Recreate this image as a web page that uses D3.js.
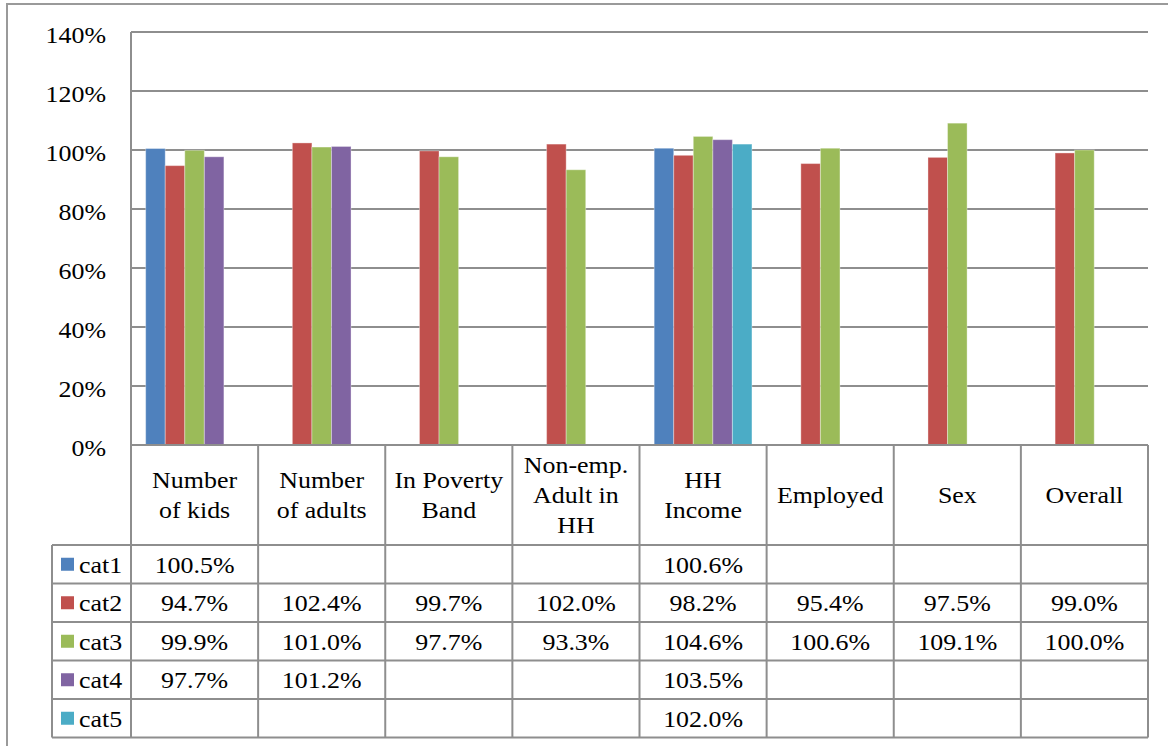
<!DOCTYPE html>
<html><head><meta charset="utf-8">
<script src="https://cdn.jsdelivr.net/npm/d3@7"></script>
<style>body{margin:0;background:#fff}svg{display:block}svg text{font-family:"Liberation Serif","Times New Roman","DejaVu Serif",serif !important;}</style>
</head><body>
<svg id="c" width="1168" height="746"></svg>
<script>
const categories = [["Number","of kids"],["Number","of adults"],["In Poverty","Band"],["Non-emp.","Adult in","HH"],["HH","Income"],["Employed"],["Sex"],["Overall"]];
const seriesNames = ["cat1","cat2","cat3","cat4","cat5"];
const cat1 = [100.5, null, null, null, 100.6, null, null, null];
const cat2 = [94.7, 102.4, 99.7, 102.0, 98.2, 95.4, 97.5, 99.0];
const cat3 = [99.9, 101.0, 97.7, 93.3, 104.6, 100.6, 109.1, 100.0];
const cat4 = [97.7, 101.2, null, null, 103.5, null, null, null];
const cat5 = [null, null, null, null, 102.0, null, null, null];
const colors = ["#4F81BD","#C0504D","#9BBB59","#8064A2","#4BACC6"];
const yTicks = [0,20,40,60,80,100,120,140];

const series = [cat1,cat2,cat3,cat4,cat5];
const svg = d3.select("#c");
const L = 131, R = 1148, T = 32, B = 445;
const rowH = 38.5, headB = 545, legL = 52;
const grid = "#8e8e8e";
const fs = 24, sx = 1.08;

// outer border
svg.append("path").attr("d","M7,746 V4 H1168").attr("fill","none").attr("stroke","#9a9a9a").attr("stroke-width",2);

const x = d3.scaleBand().domain(d3.range(categories.length)).range([L,R]).paddingInner(0).paddingOuter(0);
const y = d3.scaleLinear().domain([0,140]).range([B,T]);
const bw = x.bandwidth()/(5+1.5);
const xs = d3.scaleBand().domain(d3.range(5)).range([bw*0.75, x.bandwidth()-bw*0.75]).padding(0);

// gridlines
svg.append("g").selectAll("line").data(yTicks).join("line")
  .attr("x1",L).attr("x2",R).attr("y1",d=>y(d)).attr("y2",d=>y(d))
  .attr("stroke",grid).attr("stroke-width",2);

// y axis labels
const yAxis = d3.axisLeft(y).tickValues(yTicks).tickFormat(d=>d+"%").tickSize(0).tickPadding(0);
const ya = svg.append("g").attr("transform",`translate(106,0)`).call(yAxis);
ya.select(".domain").remove();
ya.selectAll("text").style("font-size",fs+"px").attr("fill","#000").attr("x",0).attr("dy","0.42em")
  .attr("transform",`scale(${sx},1)`);

// bars
series.forEach((s,si)=>{
  svg.append("g").selectAll("rect").data(s.map((v,i)=>({v,i})).filter(d=>d.v!=null)).join("rect")
    .attr("x",d=>x(d.i)+xs(si)).attr("width",xs.bandwidth())
    .attr("y",d=>y(d.v)).attr("height",d=>B-y(d.v))
    .attr("fill",colors[si]).attr("stroke","rgba(255,255,255,0.35)").attr("stroke-width",1);
});

// plot left axis line
svg.append("line").attr("x1",L).attr("x2",L).attr("y1",T).attr("y2",B).attr("stroke",grid).attr("stroke-width",2);

// table lines
const tb = svg.append("g").attr("stroke",grid).attr("stroke-width",2);
const tableBottom = headB + rowH*5;
tb.append("line").attr("x1",L).attr("x2",R).attr("y1",B).attr("y2",B);
d3.range(6).forEach(r=>{
  tb.append("line").attr("x1",legL).attr("x2",R).attr("y1",headB+r*rowH).attr("y2",headB+r*rowH);
});
d3.range(categories.length+1).forEach(i=>{
  const xx = i<categories.length ? x(i) : R;
  tb.append("line").attr("x1",xx).attr("x2",xx).attr("y1",B).attr("y2",tableBottom);
});
tb.append("line").attr("x1",legL).attr("x2",legL).attr("y1",headB).attr("y2",tableBottom);

function txt(g, x0, y0, t, anchor){
  return g.append("text").attr("transform",`translate(${x0},${y0}) scale(${sx},1)`)
    .attr("text-anchor",anchor||"middle").style("font-size",fs+"px").attr("fill","#000").text(t);
}

// header text
const hdr = svg.append("g");
categories.forEach((lines,i)=>{
  const cx = x(i)+x.bandwidth()/2;
  const lh = 30;
  const mid = (B+headB)/2 + 8;
  lines.forEach((t,k)=>{
    txt(hdr, cx, mid + (k-(lines.length-1)/2)*lh, t);
  });
});

// data cells
const cells = svg.append("g");
series.forEach((s,si)=>{
  const cy = headB + si*rowH + rowH/2 + 8.5;
  s.forEach((v,i)=>{
    if(v==null) return;
    txt(cells, x(i)+x.bandwidth()/2, cy, v.toFixed(1)+"%");
  });
  svg.append("rect").attr("x",61).attr("y",headB+si*rowH+rowH/2-6.5).attr("width",13).attr("height",13).attr("fill",colors[si]);
  txt(svg, 79, cy, seriesNames[si], "start");
});
</script>
</body></html>
